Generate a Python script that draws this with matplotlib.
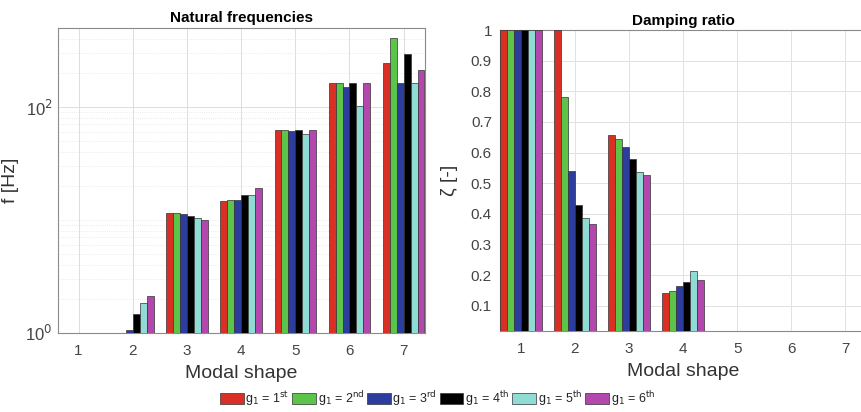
import numpy as np
import matplotlib
matplotlib.use("Agg")
import matplotlib.pyplot as plt
from matplotlib.ticker import FixedLocator, LogLocator, NullFormatter

plt.rcParams['font.family'] = ['Liberation Sans', 'DejaVu Sans']

modes = [1, 2, 3, 4, 5, 6, 7]
series_labels = [r'g$_1$ = 1$^{\rm st}$', r'g$_1$ = 2$^{\rm nd}$', r'g$_1$ = 3$^{\rm rd}$',
                 r'g$_1$ = 4$^{\rm th}$', r'g$_1$ = 5$^{\rm th}$', r'g$_1$ = 6$^{\rm th}$']
colors = ['#d92f24', '#5cc449', '#2c3d9e', '#000000', '#8edcd4', '#b447ad']

# natural frequencies [Hz], one list per g1 case, modes 1..7
freq_1st = [1.0, 1.0, 11.6, 14.7, 62.0, 164, 244]
freq_2nd = [1.0, 1.0, 11.5, 15.0, 62.0, 164, 410]
freq_3rd = [1.0, 1.05, 11.3, 15.0, 61.2, 150, 164]
freq_4th = [1.0, 1.48, 10.8, 16.7, 62.5, 164, 294]
freq_5th = [1.0, 1.84, 10.5, 16.5, 57.9, 101, 164]
freq_6th = [1.0, 2.13, 9.97, 19.2, 62.5, 164, 213]

# damping ratio [-]
zeta_1st = [1.0, 1.0, 0.657, 0.141, 0, 0, 0]
zeta_2nd = [1.0, 0.780, 0.643, 0.148, 0, 0, 0]
zeta_3rd = [1.0, 0.541, 0.618, 0.166, 0, 0, 0]
zeta_4th = [1.0, 0.428, 0.580, 0.179, 0, 0, 0]
zeta_5th = [1.0, 0.386, 0.538, 0.212, 0, 0, 0]
zeta_6th = [1.0, 0.366, 0.526, 0.185, 0, 0, 0]

freqs = [freq_1st, freq_2nd, freq_3rd, freq_4th, freq_5th, freq_6th]
zetas = [zeta_1st, zeta_2nd, zeta_3rd, zeta_4th, zeta_5th, zeta_6th]

fig = plt.figure(figsize=(8.61, 4.12), dpi=100)
ax1 = fig.add_axes([0.0674, 0.192, 0.4266, 0.740])
ax2 = fig.add_axes([0.581, 0.197, 0.426, 0.730])

x = np.array(modes, dtype=float)
w = 0.128
offsets = (np.arange(6) - 2.5) * w

handles = []
for i in range(6):
    h = ax1.bar(x + offsets[i], freqs[i], width=w, bottom=1e-3, color=colors[i],
                edgecolor='#333333', linewidth=0.5, zorder=3)
    ax2.bar(x + offsets[i], zetas[i], width=w, color=colors[i],
            edgecolor='#333333', linewidth=0.5, zorder=3)
    handles.append(h)

tick_col = '#444444'
spine_col = '#8a8a8a'

ax1.set_yscale('log')
ax1.set_ylim(1, 500)
ax1.set_xlim(0.62, 7.4)
ax1.yaxis.set_major_locator(FixedLocator([1, 100]))
ax1.yaxis.set_minor_locator(LogLocator(base=10, subs=np.arange(1, 10)))
ax1.yaxis.set_minor_formatter(NullFormatter())
ax1.set_yticklabels([r'10$^0$', r'10$^2$'], fontsize=13)
ax1.grid(True, which='major', color='#dddddd', linewidth=0.7, zorder=0)
ax1.grid(True, which='minor', axis='y', color='#e4e4e4', linewidth=0.6, linestyle=':', zorder=0)
ax1.set_title('Natural frequencies', fontsize=11, fontweight='bold', pad=4)
ax1.set_ylabel('f [Hz]', fontsize=14, color='#333333')
ax1.yaxis.set_label_coords(-0.105, 0.5)

ax2.set_ylim(0.018, 1)
ax2.set_xlim(0.62, 7.4)
ax2.set_yticks(np.round(np.arange(0.1, 1.01, 0.1), 1))
ax2.set_yticklabels(['0.1', '0.2', '0.3', '0.4', '0.5', '0.6', '0.7', '0.8', '0.9', '1'])
ax2.grid(True, color='#e2e2e2', linewidth=0.7, zorder=0)
ax2.set_title('Damping ratio', fontsize=11, fontweight='bold', pad=4)
ax2.set_ylabel('ζ [-]', fontsize=14, color='#333333')
ax2.yaxis.set_label_coords(-0.115, 0.5)

for ax in (ax1, ax2):
    ax.set_xticks(modes)
    ax.set_xlabel('Modal shape', fontsize=14, color='#333333', labelpad=5)
    ax.tick_params(axis='both', which='both', labelsize=11, colors=tick_col,
                   length=0, pad=6)
    ax.tick_params(axis='x', pad=8)
    ax.tick_params(which='minor', length=0)
    for s in ax.spines.values():
        s.set_color(spine_col)
        s.set_linewidth(0.8)

ax1.tick_params(axis='y', labelsize=12, pad=4)

fig.legend(handles, series_labels, loc='lower center', bbox_to_anchor=(0.508, -0.018),
           ncol=6, frameon=False, fontsize=9, handlelength=1.9, handleheight=1.0,
           handletextpad=0.15, columnspacing=0.2, labelcolor='#222222')

fig.savefig('out.png', dpi=100)
